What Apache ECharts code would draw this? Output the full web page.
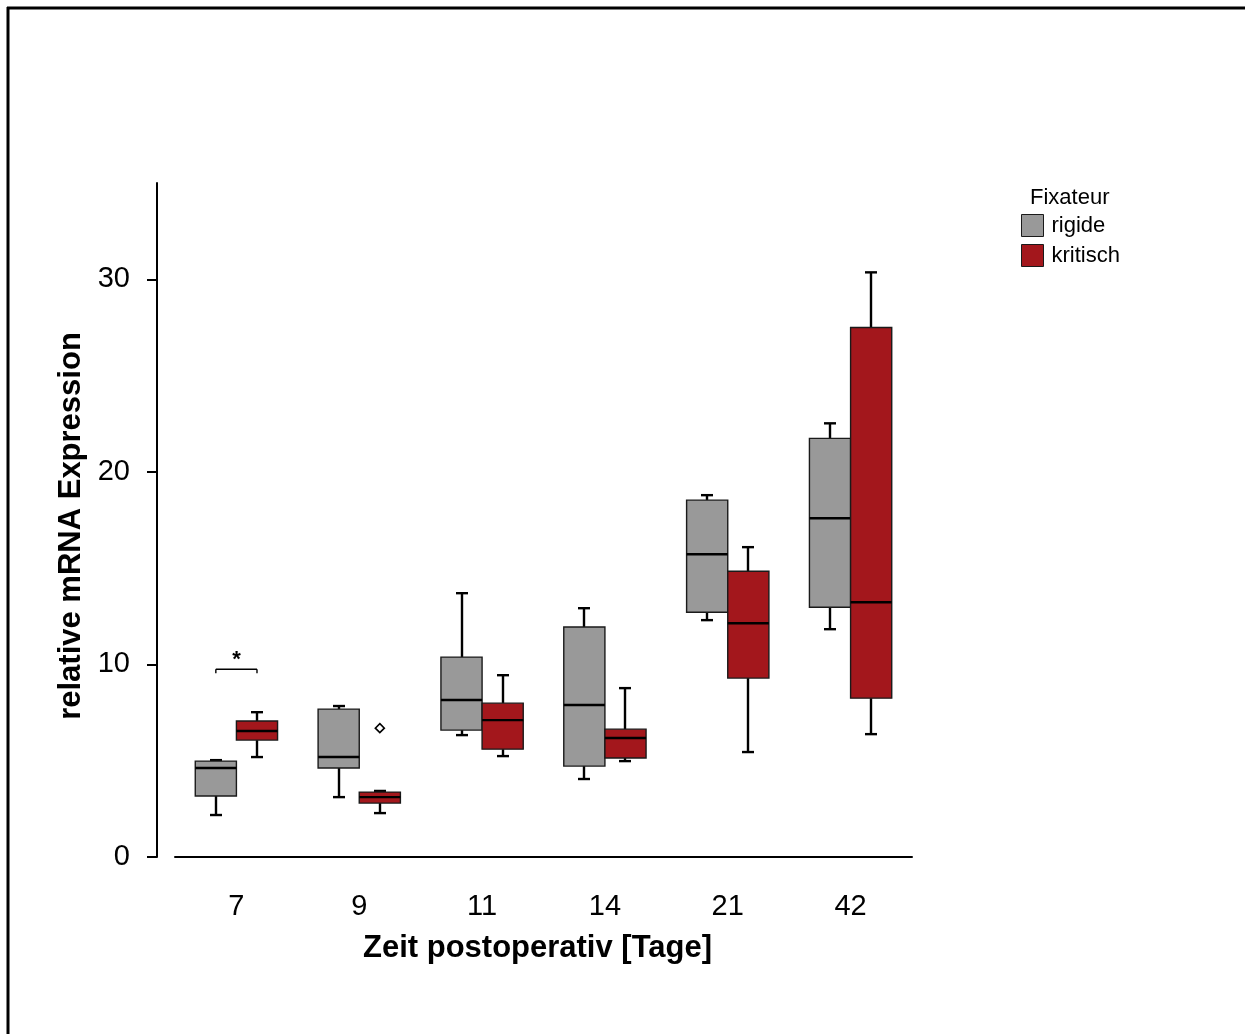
<!DOCTYPE html>
<html>
<head>
<meta charset="utf-8">
<script src="https://cdn.jsdelivr.net/npm/echarts@6/dist/echarts.min.js"></script>
<style>
  html, body { margin: 0; padding: 0; background: #fff; }
  #chart { width: 1245px; height: 1034px; }
</style>
</head>
<body>
<div id="chart"></div>
<script>
// ---- data ----
const categories = ['7', '9', '11', '14', '21', '42'];
const seriesNames = ['rigide', 'kritisch'];
// [min, Q1, median, Q3, max] per category
const rigide = [
  [2.18, 3.17, 4.62, 4.98, 5.03],
  [3.11, 4.62, 5.19, 7.68, 7.84],
  [6.33, 6.59, 8.15, 10.38, 13.70],
  [4.05, 4.72, 7.89, 11.94, 12.92],
  [12.30, 12.71, 15.72, 18.53, 18.79],
  [11.83, 12.97, 17.59, 21.74, 22.52]
];
const kritisch = [
  [5.19, 6.07, 6.54, 7.06, 7.52],
  [2.28, 2.80, 3.11, 3.37, 3.43],
  [5.24, 5.60, 7.11, 7.99, 9.44],
  [4.98, 5.14, 6.18, 6.64, 8.77],
  [5.45, 9.29, 12.14, 14.84, 16.09],
  [6.38, 8.25, 13.23, 27.50, 30.36]
];
// outliers of kritisch: [categoryIndex, value]
const kritischOutliers = [[1, 6.69]];
// significance bracket: [categoryIndex, value, label]
const significance = [[0, 9.75, '*']];
const yTicks = [0, 10, 20, 30];

// ---- style ----
const FONT = 'Liberation Sans, Arial, sans-serif';
const GRAY = '#999999';
const RED = '#a3171c';
const BOX_FRAC = 0.335;
const CAP_W = 12;

function toItems(arr) {
  return arr.map((d, i) => [i].concat(d));
}

function boxRenderer(side, color) {
  return function (params, api) {
    const idx = api.value(0);
    const cx = api.coord([idx, 0])[0];
    const bw = api.size([1, 0])[0] * BOX_FRAC;
    const x0 = side < 0 ? cx - bw : cx;
    const xm = Math.round(x0 + bw / 2);
    const y = k => api.coord([idx, api.value(k)])[1];
    const yMin = y(1), yQ1 = y(2), yMed = y(3), yQ3 = y(4), yMax = y(5);
    const ls = { stroke: '#000', lineWidth: 2.4 };
    return {
      type: 'group',
      children: [
        { type: 'line', shape: { x1: xm, y1: yMax, x2: xm, y2: yQ3 }, style: ls },
        { type: 'line', shape: { x1: xm - CAP_W / 2, y1: yMax, x2: xm + CAP_W / 2, y2: yMax }, style: ls },
        { type: 'line', shape: { x1: xm, y1: yQ1, x2: xm, y2: yMin }, style: ls },
        { type: 'line', shape: { x1: xm - CAP_W / 2, y1: yMin, x2: xm + CAP_W / 2, y2: yMin }, style: ls },
        { type: 'rect', shape: { x: x0, y: yQ3, width: bw, height: yQ1 - yQ3 },
          style: { fill: color, stroke: '#1a1a1a', lineWidth: 1.4 } },
        { type: 'line', shape: { x1: x0, y1: yMed, x2: x0 + bw, y2: yMed }, style: ls }
      ]
    };
  };
}

function outlierRenderer(side) {
  return function (params, api) {
    const idx = api.value(0);
    const p = api.coord([idx, api.value(1)]);
    const bw = api.size([1, 0])[0] * BOX_FRAC;
    const xm = p[0] + side * bw / 2;
    const r = 4.5;
    return {
      type: 'polygon',
      shape: { points: [[xm, p[1] - r], [xm + r, p[1]], [xm, p[1] + r], [xm - r, p[1]]] },
      style: { fill: '#fff', stroke: '#000', lineWidth: 1.6 }
    };
  };
}

function sigRenderer(params, api) {
  const idx = api.value(0);
  const p = api.coord([idx, api.value(1)]);
  const bw = api.size([1, 0])[0] * BOX_FRAC;
  const xl = p[0] - bw / 2, xr = p[0] + bw / 2, yy = p[1];
  const ls = { stroke: '#000', lineWidth: 1.4 };
  return {
    type: 'group',
    children: [
      { type: 'line', shape: { x1: xl, y1: yy, x2: xr, y2: yy }, style: ls },
      { type: 'line', shape: { x1: xl, y1: yy, x2: xl, y2: yy + 4 }, style: ls },
      { type: 'line', shape: { x1: xr, y1: yy, x2: xr, y2: yy + 4 }, style: ls },
      { type: 'text', x: p[0], y: yy + 2,
        style: { text: api.value(2), fill: '#000', font: 'bold 22px ' + FONT, align: 'center', verticalAlign: 'bottom' } }
    ]
  };
}

const chart = echarts.init(document.getElementById('chart'), null, { renderer: 'canvas' });
chart.setOption({
  animation: false,
  backgroundColor: '#fff',
  textStyle: { fontFamily: FONT },
  grid: { left: 175, top: 183, width: 737, height: 674 },
  legend: {
    data: seriesNames,
    orient: 'vertical',
    left: 1021, top: 214,
    padding: 0,
    itemWidth: 22, itemHeight: 22, itemGap: 7,
    icon: 'rect',
    textStyle: { fontSize: 22, color: '#000', fontFamily: FONT, padding: [2, 0, 0, 3] },
    itemStyle: { borderColor: '#1a1a1a', borderWidth: 1 }
  },
  graphic: [
    { type: 'line', shape: { x1: 7, y1: 8, x2: 1245, y2: 8 }, style: { stroke: '#000', lineWidth: 3 } },
    { type: 'line', shape: { x1: 8, y1: 7, x2: 8, y2: 1034 }, style: { stroke: '#000', lineWidth: 3 } },
    { type: 'text', left: 1030, top: 187, style: { text: 'Fixateur', font: '22px ' + FONT, fill: '#000' } }
  ],
  xAxis: {
    type: 'category',
    data: categories,
    boundaryGap: true,
    name: 'Zeit postoperativ [Tage]',
    nameLocation: 'middle',
    nameGap: 76,
    nameTextStyle: { fontSize: 31, fontWeight: 'bold', color: '#000', fontFamily: FONT, padding: [0, 12, 0, 0] },
    axisLine: { lineStyle: { color: '#000', width: 2 } },
    axisTick: { alignWithLabel: true, length: 19, lineStyle: { color: '#000', width: 2 } },
    axisLabel: { fontSize: 29, color: '#000', margin: 35, fontFamily: FONT },
    splitLine: { show: false }
  },
  yAxis: {
    type: 'value',
    min: 0, max: 35, interval: 10,
    offset: 18,
    name: 'relative mRNA Expression',
    nameLocation: 'middle',
    nameGap: 70,
    nameTextStyle: { fontSize: 31, fontWeight: 'bold', color: '#000', fontFamily: FONT, padding: [0, 12, 0, 0] },
    axisLine: { show: true, lineStyle: { color: '#000', width: 2 } },
    axisTick: { show: true, length: 10, lineStyle: { color: '#000', width: 2 }, customValues: yTicks },
    axisLabel: { fontSize: 29, color: '#000', margin: 27, fontFamily: FONT, customValues: yTicks },
    splitLine: { show: false }
  },
  series: [
    {
      name: 'rigide', type: 'custom',
      renderItem: boxRenderer(-1, GRAY),
      itemStyle: { color: GRAY, borderColor: '#1a1a1a', borderWidth: 1 },
      encode: { x: 0, y: [1, 2, 3, 4, 5] },
      data: toItems(rigide), z: 2
    },
    {
      name: 'kritisch', type: 'custom',
      renderItem: boxRenderer(1, RED),
      itemStyle: { color: RED, borderColor: '#1a1a1a', borderWidth: 1 },
      encode: { x: 0, y: [1, 2, 3, 4, 5] },
      data: toItems(kritisch), z: 2
    },
    {
      name: 'kritisch-outlier', type: 'custom',
      renderItem: outlierRenderer(1),
      encode: { x: 0, y: 1 },
      data: kritischOutliers, z: 3
    },
    {
      name: 'signifikanz', type: 'custom',
      renderItem: sigRenderer,
      encode: { x: 0, y: 1 },
      data: significance, z: 3
    }
  ]
});
</script>
</body>
</html>
